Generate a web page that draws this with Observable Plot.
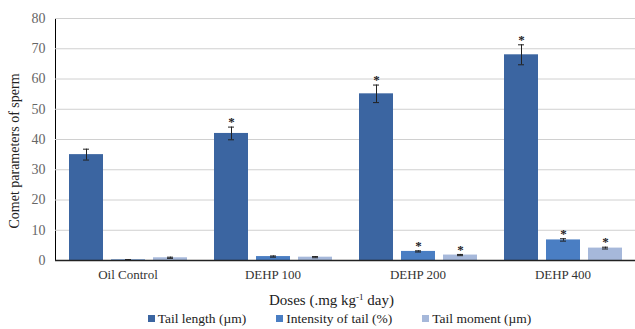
<!DOCTYPE html>
<html>
<head>
<meta charset="utf-8">
<script src="https://cdn.jsdelivr.net/npm/d3@7"></script>
<script src="https://cdn.jsdelivr.net/npm/@observablehq/plot@0.6"></script>
<style>
  html, body { margin: 0; padding: 0; background: #fff; }
  body { width: 635px; height: 329px; overflow: hidden; font-family: "Liberation Serif", "Times New Roman", serif; }
  #xlabel { font-family: "Liberation Serif", "Times New Roman", serif; text-align: center; font-size: 15px; color: #222; margin-top: 5px; line-height: 17px; padding-left: 28px; }
  #xlabel sup { font-size: 9px; vertical-align: 5px; line-height: 0; }
  #legend { font-family: "Liberation Serif", "Times New Roman", serif; display: flex; justify-content: center; gap: 30px; font-size: 13.5px; color: #222; margin-top: 2px; padding-left: 44px; line-height: 15px; }
  #legend span.sw { display: inline-block; width: 7px; height: 7px; margin-right: 3px; vertical-align: 1px; }
</style>
</head>
<body>
<div id="chart"></div>
<div id="xlabel">Doses (.mg kg<sup>-1</sup> day)</div>
<div id="legend"></div>
<script>
const groups = ["Oil Control", "DEHP 100", "DEHP 200", "DEHP 400"];
const series = ["Tail length (µm)", "Intensity of tail (%)", "Tail moment (µm)"];
const colors = ["#3b65a1", "#4a7ec3", "#a6b8da"];
const yTicks = [0, 10, 20, 30, 40, 50, 60, 70, 80];

const tailLength = [35, 42, 55.1, 68];
const tailLengthErr = [1.8, 2.1, 2.9, 3.3];
const tailLengthSig = [false, true, true, true];

const intensity = [0.2, 1.3, 3.0, 6.8];
const intensityErr = [0.1, 0.2, 0.2, 0.4];
const intensitySig = [false, false, true, true];

const moment = [0.9, 1.1, 1.8, 4.1];
const momentErr = [0.2, 0.2, 0.2, 0.3];
const momentSig = [false, false, true, true];

const values = [tailLength, intensity, moment];
const errs = [tailLengthErr, intensityErr, momentErr];
const sigs = [tailLengthSig, intensitySig, momentSig];

const data = [];
groups.forEach((g, gi) => series.forEach((s, si) => {
  data.push({group: g, series: s, value: values[si][gi], err: errs[si][gi], sig: sigs[si][gi]});
}));

const chart = Plot.plot({
  width: 635,
  height: 287,
  marginTop: 18,
  marginBottom: 27,
  marginLeft: 54,
  marginRight: 0,
  style: {fontFamily: "Liberation Serif, serif", background: "#fff"},
  fx: {domain: groups, padding: 0, label: null, tickSize: 0, tickPadding: 9},
  x: {domain: series, paddingInner: 0.2, paddingOuter: 0.31, axis: null},
  y: {domain: [0, 80], ticks: yTicks, label: null, tickSize: 0, tickPadding: 10, line: true},
  color: {domain: series, range: colors},
  marks: [
    Plot.gridY(yTicks, {stroke: "#d0d0d0", strokeOpacity: 1, strokeWidth: 1}),
    Plot.barY(data, {fx: "group", x: "series", y: "value", fill: "series"}),
    Plot.ruleX(data, {fx: "group", x: "series", y1: d => d.value - d.err, y2: d => d.value + d.err, stroke: "#222", strokeWidth: 1}),
    Plot.tickY(data, {fx: "group", x: "series", y: d => d.value - d.err, stroke: "#222", insetLeft: 14, insetRight: 14}),
    Plot.tickY(data, {fx: "group", x: "series", y: d => d.value + d.err, stroke: "#222", insetLeft: 14, insetRight: 14}),
    Plot.text(data.filter(d => d.sig), {fx: "group", x: "series", y: d => d.value + d.err, text: () => "*", dy: -5, fontSize: 13, fontWeight: "bold", fill: "#222"}),
    Plot.ruleY([0], {stroke: "#222", strokeWidth: 1.3})
  ]
});

d3.select(chart).selectAll("g[aria-label='fx-axis tick label'] text, g[aria-label='fx-axis tick label']").style("font-size", "13px").attr("fill", "#333");
d3.select(chart).selectAll("g[aria-label='y-axis tick label']").style("font-size", "14px").attr("fill", "#666");
d3.select(chart).selectAll("g[aria-label='y-axis line'] line, g[aria-label='y-axis line']").attr("stroke", "#222").attr("stroke-width", 1.3);
document.getElementById("chart").appendChild(chart);

// y-axis title
const svg = d3.select(chart);
svg.append("text")
  .attr("transform", "translate(16,151) rotate(-90)")
  .attr("text-anchor", "middle")
  .attr("dominant-baseline", "middle")
  .style("font-family", "Liberation Serif, serif")
  .style("font-size", "14px")
  .attr("fill", "#222")
  .text("Comet parameters of sperm");

const legend = d3.select("#legend");
series.forEach((s, i) => {
  const item = legend.append("div");
  item.append("span").attr("class", "sw").style("background", colors[i]);
  item.append("span").text(s);
});
</script>
</body>
</html>
